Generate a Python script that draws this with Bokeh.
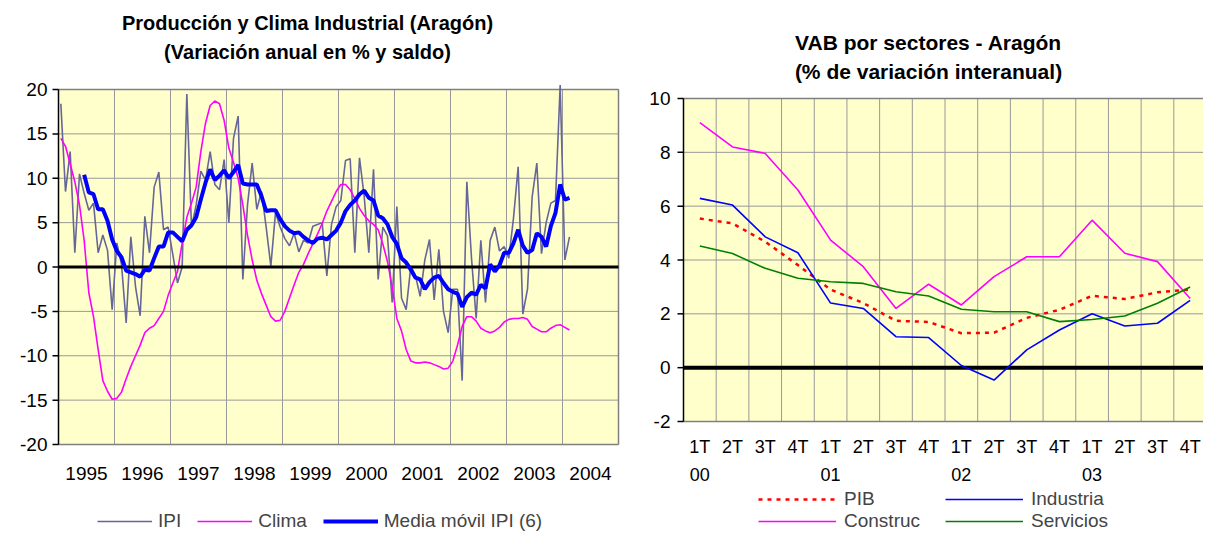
from bokeh.plotting import figure
from bokeh.models import Range1d, Legend, LegendItem
from bokeh.core.properties import value
from bokeh.embed import file_html
from bokeh.resources import INLINE

# ---------------- Left chart data (monthly, Jan 1995 ...) ----------------
years = list(range(1995, 2005))
ipi = [18.4, 8.5, 13.0, 1.6, 10.5, 8.3, 6.4, 7.2, 1.6, 3.6, 1.9, -4.8,
       2.7, 0.3, -6.3, 3.4, -2.2, -5.5, 5.7, 1.6, 9.0, 10.7, 4.2, 4.5,
       1.4, -1.8, 0.0, 19.5, 4.5, 7.0, 10.8, 9.8, 13.0, 9.3, 8.7, 12.1,
       5.0, 14.5, 17.0, -1.4, 7.0, 11.7, 6.5, 8.5, 4.5, 0.1, 6.1, 4.5,
       3.2, 2.4, 3.8, 1.7, 3.0, 2.7, 4.6, 4.8, 5.0, -1.0, 4.8, 6.8,
       7.5, 12.0, 12.2, 1.6, 12.3, 8.0, 1.6, 11.0, -1.4, 4.5, 3.5, -4.0,
       6.8, -3.5, -4.8, 0.1, -1.0, -3.3, 0.8, 3.1, -3.7, 2.0, -5.0, -7.4,
       -2.5, -2.5, -12.8, 9.6, 1.0, -5.8, 3.0, -4.0, 3.0, 4.5, 1.8, 2.3,
       1.0, 5.5, 11.3, -5.3, -2.5, 7.9, 11.7, 1.5, 5.0, 7.2, 7.5, 20.5,
       0.8, 3.4]
clima = [14.5, 13.6, 11.6, 9.6, 7.0, 3.0, -2.9, -5.6, -9.3, -12.8, -14.0, -14.9,
         -14.8, -14.1, -12.6, -11.2, -10.0, -8.8, -7.4, -6.9, -6.6, -5.8, -5.0, -3.2,
         -1.8, -0.5, 2.7, 5.6, 7.2, 9.0, 13.0, 16.2, 18.2, 18.7, 18.4, 16.5,
         13.4, 11.8, 10.0, 7.0, 3.6, 0.8, -1.5, -3.0, -4.3, -5.6, -6.1, -6.0,
         -5.0, -3.5, -2.0, -0.6, 0.3, 1.5, 2.6, 3.7, 4.9, 6.3, 7.4, 8.5,
         9.3, 9.3, 8.7, 7.7, 6.6, 5.8, 5.2, 4.8, 4.2, 2.6, 0.6, -2.2,
         -5.8, -7.2, -9.3, -10.6, -10.8, -10.8, -10.7, -10.8, -11.0, -11.2, -11.5, -11.4,
         -10.6, -8.8, -6.7, -5.6, -5.6, -6.1, -6.9, -7.2, -7.4, -7.2, -6.8, -6.2,
         -5.9, -5.8, -5.8, -5.7, -5.9, -6.7, -7.0, -7.3, -7.3, -6.9, -6.6, -6.5,
         -6.8, -7.1]
media_movil_start = 5  # first month with a 6-month average
media_movil = [10.4, 8.4, 8.2, 6.5, 6.5, 5.2, 3.1,
               1.8, 1.1, -0.4, -0.6, -0.8, -1.1, -0.3, -0.4, 1.0, 2.3, 2.3, 3.9,
               3.9, 3.4, 2.9, 4.2, 4.7, 5.6, 7.6, 9.5, 11.0, 9.8, 10.3, 10.9,
               10.0, 10.7, 11.5, 9.4, 9.3, 9.3, 9.3, 8.0, 6.3, 6.4, 6.4, 5.4,
               4.6, 4.1, 3.8, 3.9, 3.4, 3.0, 2.7, 3.2, 3.3, 3.1, 3.6, 4.1,
               5.0, 6.3, 7.0, 7.5, 8.2, 8.6, 7.8, 7.5, 5.8, 5.5, 4.8, 3.4,
               2.6, 1.0, 0.5, -0.3, -1.2, -1.4, -2.5, -1.7, -1.2, -1.0, -1.8, -2.5,
               -2.8, -3.0, -4.5, -3.4, -2.9, -3.1, -2.0, -2.4, 0.3, -0.5, 0.2, 1.6,
               1.6, 2.7, 4.2, 2.4, 1.6, 1.9, 3.8, 3.4, 2.3, 4.6, 6.1, 9.3,
               7.6, 7.8]
yticks_left = [-20, -15, -10, -5, 0, 5, 10, 15, 20]

# ---------------- Right chart data (quarterly) ----------------
quarters = ["1T", "2T", "3T", "4T"] * 4
quarter_years = ["00", "01", "02", "03"]
pib = [5.54, 5.36, 4.68, 3.81, 2.9, 2.4, 1.74, 1.7, 1.28, 1.3, 1.85, 2.15, 2.67, 2.55, 2.8, 2.9]
industria = [6.29, 6.04, 4.86, 4.27, 2.4, 2.2, 1.15, 1.12, 0.08, -0.46, 0.66, 1.4, 2.0, 1.55, 1.65, 2.5]
construc = [9.1, 8.2, 7.96, 6.6, 4.74, 3.75, 2.2, 3.1, 2.33, 3.38, 4.12, 4.12, 5.48, 4.25, 3.94, 2.57]
servicios = [4.52, 4.24, 3.69, 3.32, 3.19, 3.13, 2.82, 2.66, 2.17, 2.08, 2.08, 1.71, 1.79, 1.92, 2.39, 3.0]
yticks_right = [-2, 0, 2, 4, 6, 8, 10]

FONT = "Liberation Sans"
BG = "#FFFFCC"
GRID = "#999999"
BORDER = "#808080"

# ---------------- canvas & the two plot areas (pixels) ----------------
W, H = 1203, 532
L1, R1, T1, B1 = 58, 618, 89, 444      # left plot area
L2, R2, T2, B2 = 683, 1206, 98, 421    # right plot area (runs to the edge)

p = figure(width=W, height=H, x_range=Range1d(0, W), y_range=Range1d(0, H),
           output_backend="svg", toolbar_location=None,
           x_axis_location=None, y_axis_location=None, title_location=None,
           min_border=0, outline_line_color=None,
           background_fill_color="white", border_fill_color="white")
p.grid.visible = False

# scales of the left chart
x0, x1 = years[0], years[-1] + 1
ymin1, ymax1 = yticks_left[0], yticks_left[-1]
sx1 = (R1 - L1) / (x1 - x0)
sy1 = (B1 - T1) / (ymax1 - ymin1)
# scales of the right chart
nq = len(quarters)
ymin2, ymax2 = yticks_right[0], yticks_right[-1]
sx2 = (R2 - L2) / nq
sy2 = (B2 - T2) / (ymax2 - ymin2)

p.extra_x_ranges = {"lx": Range1d(x0 - L1 / sx1, x0 + (W - L1) / sx1),
                    "rx": Range1d(-L2 / sx2, (W - L2) / sx2)}
p.extra_y_ranges = {"ly": Range1d(ymin1 - (H - B1) / sy1, ymin1 + B1 / sy1),
                    "ry": Range1d(ymin2 - (H - B2) / sy2, ymin2 + B2 / sy2)}
k1 = dict(x_range_name="lx", y_range_name="ly")
k2 = dict(x_range_name="rx", y_range_name="ry")


def txt(xs, ys, texts, size, align="center", baseline="middle", bold=False, **kw):
    p.text(x=xs, y=ys, text=texts, text_align=align, text_baseline=baseline,
           text_font=value(FONT), text_font_size=value(size), text_color="black",
           text_font_style="bold" if bold else "normal", **kw)


# ======================= LEFT CHART =======================
p.quad(left=[x0], right=[x1], bottom=[ymin1], top=[ymax1], fill_color=BG, line_color=None, **k1)
n1 = len(yticks_left)
p.segment(x0=[x0] * n1, y0=yticks_left, x1=[x1] * n1, y1=yticks_left, line_color=GRID, line_width=1, **k1)
xg1 = list(range(x0, x1 + 1))
p.segment(x0=xg1, y0=[ymin1] * len(xg1), x1=xg1, y1=[ymax1] * len(xg1), line_color=GRID, line_width=1, **k1)
p.segment(x0=[x0, x1, x0], y0=[ymax1, ymin1, ymin1], x1=[x1, x1, x1], y1=[ymax1, ymax1, ymin1],
          line_color=BORDER, line_width=1.5, **k1)

xm = [x0 + (i + 0.5) / 12 for i in range(len(ipi))]
xc = [x0 + (i + 0.5) / 12 for i in range(len(clima))]
xmm = [x0 + (media_movil_start + i + 0.5) / 12 for i in range(len(media_movil))]
r_ipi = p.line(xm, ipi, line_color="#666699", line_width=1.6, **k1)
r_cli = p.line(xc, clima, line_color="#FF00FF", line_width=1.6, **k1)
p.segment(x0=[x0], y0=[0], x1=[x1], y1=[0], line_color="black", line_width=3, **k1)
r_mm = p.line(xmm, media_movil, line_color="#0000FF", line_width=4, **k1)

p.segment(x0=[x0], y0=[ymin1], x1=[x0], y1=[ymax1], line_color="black", line_width=1.5, **k1)
p.segment(x0=[x0 - 6 / sx1] * n1, y0=yticks_left, x1=[x0] * n1, y1=yticks_left,
          line_color="black", line_width=1.5, **k1)
txt([x0 - 11 / sx1] * n1, yticks_left, [str(v) for v in yticks_left], "19px", align="right", **k1)
txt([y + 0.5 for y in years], [ymin1 - 29 / sy1] * len(years), [str(y) for y in years], "19px", **k1)

# titles (pixel coordinates of the canvas)
txt([307], [H - 22], ["Producción y Clima Industrial (Aragón)"], "20px", baseline="alphabetic", bold=True)
txt([307], [H - 51], ["(Variación anual en % y saldo)"], "20px", baseline="alphabetic", bold=True)

leg1 = Legend(items=[LegendItem(label="IPI", renderers=[r_ipi]),
                     LegendItem(label="Clima", renderers=[r_cli]),
                     LegendItem(label="Media móvil IPI (6)", renderers=[r_mm])],
              location=(97, 0), orientation="horizontal",
              glyph_width=55, glyph_height=20, label_standoff=6, spacing=16,
              label_text_font=FONT, label_text_font_size="19px", label_height=20,
              border_line_color=None, background_fill_alpha=0, padding=0, margin=0)
p.add_layout(leg1)

# ======================= RIGHT CHART =======================
p.quad(left=[0], right=[nq], bottom=[ymin2], top=[ymax2], fill_color=BG, line_color=None, **k2)
n2 = len(yticks_right)
p.segment(x0=[0] * n2, y0=yticks_right, x1=[nq] * n2, y1=yticks_right, line_color=GRID, line_width=1, **k2)
xg2 = list(range(nq + 1))
p.segment(x0=xg2, y0=[ymin2] * len(xg2), x1=xg2, y1=[ymax2] * len(xg2), line_color=GRID, line_width=1, **k2)
p.segment(x0=[0, nq, 0], y0=[ymax2, ymin2, ymin2], x1=[nq, nq, nq], y1=[ymax2, ymax2, ymin2],
          line_color=BORDER, line_width=1.5, **k2)
p.segment(x0=[0], y0=[0], x1=[nq], y1=[0], line_color="black", line_width=4, **k2)

xq = [i + 0.5 for i in range(nq)]
r_pib = p.line(xq, pib, line_color="#FF0000", line_width=2.5, line_dash="4 5", **k2)
r_ind = p.line(xq, industria, line_color="#0000FF", line_width=1.6, **k2)
r_con = p.line(xq, construc, line_color="#FF00FF", line_width=1.6, **k2)
r_ser = p.line(xq, servicios, line_color="#008000", line_width=1.6, **k2)

p.segment(x0=[0], y0=[ymin2], x1=[0], y1=[ymax2], line_color="black", line_width=1.5, **k2)
p.segment(x0=[-6 / sx2] * n2, y0=yticks_right, x1=[0] * n2, y1=yticks_right,
          line_color="black", line_width=1.5, **k2)
txt([-13 / sx2] * n2, yticks_right, [str(v) for v in yticks_right], "19px", align="right", **k2)
txt(xq, [ymin2 - 25 / sy2] * nq, quarters, "18px", **k2)
txt(xq[::4], [ymin2 - 53 / sy2] * len(quarter_years), quarter_years, "18px", **k2)

txt([928], [H - 42], ["VAB por sectores - Aragón"], "21px", baseline="alphabetic", bold=True)
txt([928], [H - 71], ["(% de variación interanual)"], "21px", baseline="alphabetic", bold=True)

leg_kw = dict(orientation="horizontal", glyph_width=78, glyph_height=20, label_standoff=8,
              spacing=10, label_width=91, label_height=20,
              label_text_font=FONT, label_text_font_size="19px",
              border_line_color=None, background_fill_alpha=0, padding=0, margin=0)
leg2a = Legend(items=[LegendItem(label="PIB", renderers=[r_pib]),
                      LegendItem(label="Industria", renderers=[r_ind])],
               location=(758, 22), **leg_kw)
leg2b = Legend(items=[LegendItem(label="Construc", renderers=[r_con]),
                      LegendItem(label="Servicios", renderers=[r_ser])],
               location=(758, 0), **leg_kw)
p.add_layout(leg2a)
p.add_layout(leg2b)

open("out.html", "w").write(file_html(p, INLINE))
